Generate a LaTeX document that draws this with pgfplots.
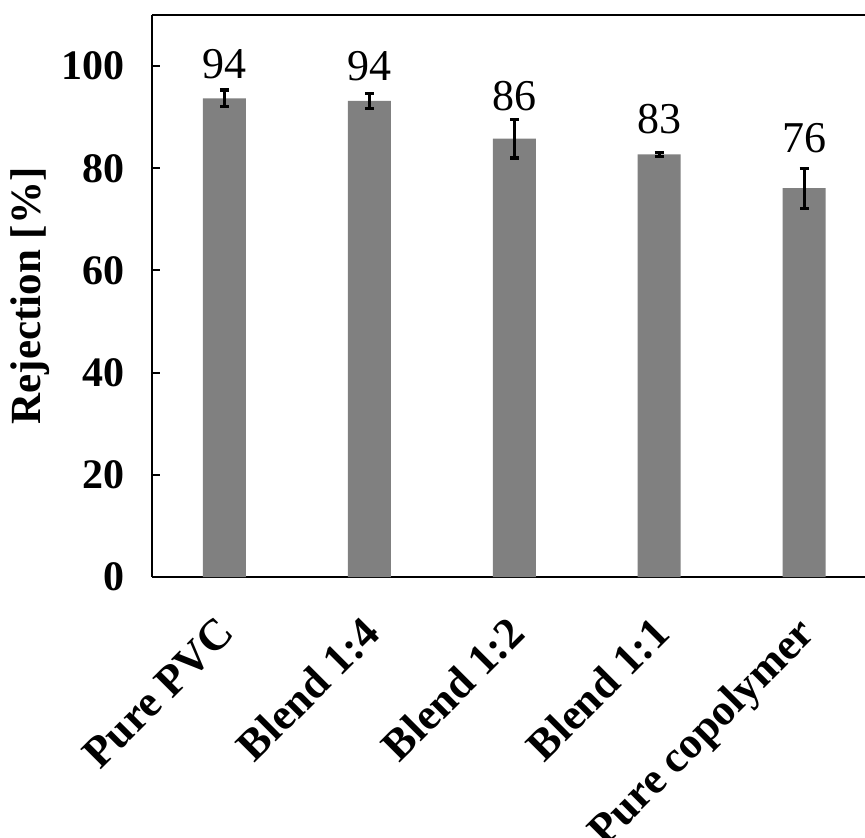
\documentclass[border=0pt]{standalone}
\usepackage{pgfplots}
\pgfplotsset{compat=1.18}
\usepackage{fontspec}
\setmainfont{Liberation Serif}
\definecolor{barc}{HTML}{808080}
\begin{document}
\begin{tikzpicture}
\begin{axis}[
  scale only axis,
  width=356.5pt, height=281pt,
  xmin=-0.5, xmax=4.42,
  ymin=0, ymax=110,
  separate axis lines,
  axis x line*=box,
  axis y line*=left,
  axis line style={line width=1pt},
  xtick={0,1,2,3,4},
  xticklabels={Pure PVC, Blend 1:4, Blend 1:2, Blend 1:1, Pure copolymer},
  xticklabel pos=lower,
  major x tick style={draw=none},
  xticklabel style={font=\fontsize{22}{24}\selectfont\bfseries, xshift=-4.5pt, yshift=-18.5pt, rotate=45, anchor=north east, inner sep=0pt},
  ytick={0,20,40,60,80,100},
  ytick pos=left,
  tick align=inside,
  major tick length=4pt,
  major y tick style={line width=1pt, black},
  /pgf/number format/assume math mode=true,
  yticklabel style={font=\fontsize{21}{24}\selectfont\bfseries, inner sep=0pt, xshift=-13.5pt},
  ylabel={Rejection [\%]},
  ylabel style={font=\fontsize{21.5}{24}\selectfont\bfseries, at={(axis description cs:-0.171,0.5)}, anchor=center},
  clip=false,
]
\addplot[ybar, bar width=21.5pt, fill=barc, draw=none,
  error bars/.cd, y dir=both, y explicit,
  error bar style={line width=1.6pt, black},
  error mark options={line width=1.6pt, mark size=2.25pt, rotate=90, black}]
  coordinates {
    (0,93.7) +- (0,1.6)
    (1,93.2) +- (0,1.5)
    (2,85.8) +- (0,3.8)
    (3,82.7) +- (0,0.35)
    (4,76.1) +- (0,3.9)
  };
\addplot[draw=none, mark=none, nodes near coords, point meta=explicit symbolic,
  nodes near coords style={anchor=base, inner sep=0pt, font=\fontsize{22}{24}\selectfont}]
  coordinates {
    (0,97.6) [94]
    (1,97.1) [94]
    (2,91.4) [86]
    (3,86.9) [83]
    (4,83.0) [76]
  };
\coordinate (ll) at (rel axis cs:0,0);
\coordinate (ur) at (rel axis cs:1,1);
\end{axis}
\pgfresetboundingbox
\useasboundingbox ([xshift=-76pt,yshift=-130.5pt]ll) rectangle ([yshift=7.5pt]ur);
\end{tikzpicture}
\end{document}
